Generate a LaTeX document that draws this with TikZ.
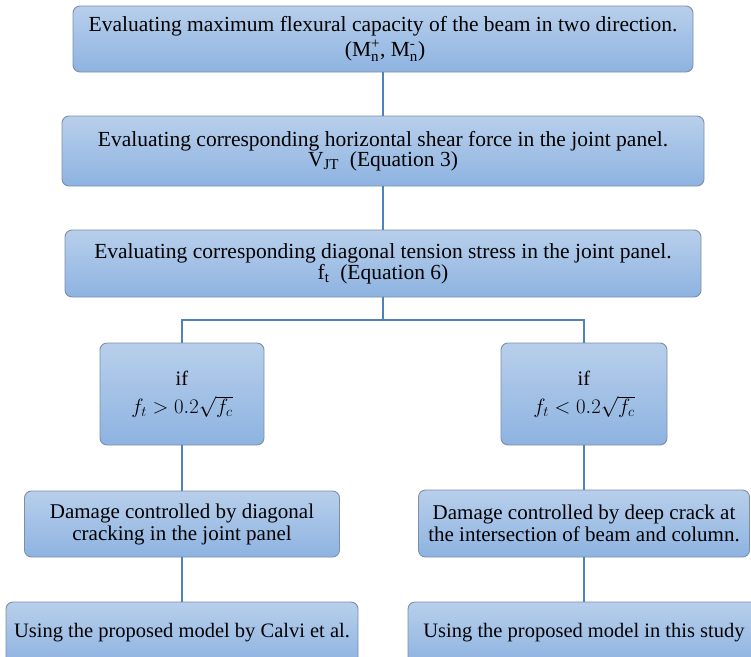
\documentclass[tikz,border=0pt]{standalone}
\usepackage{amsmath}
\usepackage{fontspec}
\setmainfont{Liberation Serif}
\newfontfamily\tnr{Liberation Serif}
\definecolor{boxtop}{HTML}{B8CFEB}
\definecolor{boxbot}{HTML}{8DB3E1}
\definecolor{boxline}{HTML}{7C8FA6}
\definecolor{conn}{HTML}{4F81BD}
\tikzset{
  box/.style={draw=boxline, line width=0.9pt, rounded corners=7pt,
    top color=boxtop, bottom color=boxbot, align=center, inner sep=0pt},
  bigtxt/.style={font=\tnr\fontsize{21.5}{19.5}\selectfont},
  midtxt/.style={font=\tnr\fontsize{21}{22}\selectfont},
  smalltxt/.style={font=\tnr\fontsize{20.5}{22}\selectfont},
  link/.style={draw=conn, line width=1.3pt}
}
\begin{document}
\begin{tikzpicture}[x=1pt,y=-1pt]
\useasboundingbox (0,0) rectangle (751,656);
\clip (0,0) rectangle (751,656);
\node[box, bigtxt, minimum width=620, minimum height=66] (b1) at (383,39)
  {Evaluating maximum flexural capacity of the beam in two direction.\\[3pt]
   \hspace*{4pt}($\text{M}_{\text{n}}^{\text{+}}$, $\text{M}_{\text{n}}^{\text{-}}$)};
\node[box, bigtxt, minimum width=642, minimum height=70] (b2) at (383,151)
  {Evaluating corresponding horizontal shear force in the joint panel.\\
   V\textsubscript{JT}\ \ (Equation 3)};
\node[box, bigtxt, minimum width=636, minimum height=67] (b3) at (383,263.5)
  {Evaluating corresponding diagonal tension stress in the joint panel.\\
   f\textsubscript{t}\ \ (Equation 6)};
\coordinate (j) at (383,320);
\node[box, smalltxt, minimum width=164, minimum height=102] (ifL) at (182,394)
  {if\\[6pt] $f_t > 0.2\sqrt{f_c}$};
\node[box, smalltxt, minimum width=166, minimum height=102] (ifR) at (584,394)
  {if\\[6pt] $f_t < 0.2\sqrt{f_c}$};
\node[box, midtxt, minimum width=315, minimum height=66] (dL) at (182,524)
  {Damage controlled by diagonal\\cracking in the joint panel};
\node[box, midtxt, minimum width=331, minimum height=67] (dR) at (584,523.5)
  {Damage controlled by deep crack at\\the intersection of beam and column.};
\node[box, smalltxt, minimum width=352, minimum height=62] (uL) at (182,633)
  {Using the proposed model by Calvi et al.};
\node[box, smalltxt, minimum width=352, minimum height=62] (uR) at (584,633)
  {Using the proposed model in this study};
\draw[link] (b1) -- (b2);
\draw[link] (b2) -- (b3);
\draw[link] (b3) -- (j);
\draw[link] (ifL.north) |- (j) -| (ifR.north);
\draw[link] (ifL) -- (dL);
\draw[link] (ifR) -- (dR);
\draw[link] (dL) -- (uL);
\draw[link] (dR) -- (uR);
\end{tikzpicture}
\end{document}
